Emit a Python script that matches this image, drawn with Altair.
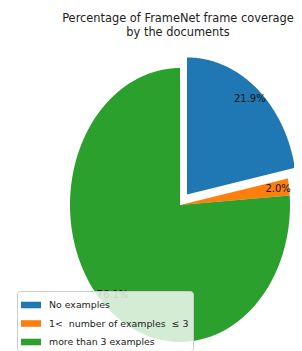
import altair as alt
import pandas as pd

# ---- data ----
labels = ["No examples", "1<\u00a0 number of examples \u00a0≤\u00a03", "more than 3 examples"]
shares = [21.9, 2.0, 76.1]          # percent
explode = [0.1, 0.0, 0.0]           # fraction of radius
colors = ["#1f77b4", "#ff7f0e", "#2ca02c"]
order = [0, 1, 2]

df = pd.DataFrame({"label": labels, "share": shares, "explode": explode, "k": order})

# scales (the reference pie is drawn as an ellipse, rx != ry)
xs = alt.Scale(domain=[-1.5636, 1.0364], nice=False, zero=False)
ys = alt.Scale(domain=[-1.066, 1.146], nice=False, zero=False)

base = alt.Chart(df).transform_window(
    cum="sum(share)", sort=[alt.SortField("k")], frame=[None, 0]
).transform_calculate(
    start="datum.cum - datum.share",
    mid="2*PI*(datum.cum - datum.share/2)/100",
).transform_calculate(
    cx="datum.explode*sin(datum.mid)",
    cy="datum.explode*cos(datum.mid)",
)

legend = alt.Legend(
    title=None, orient="none", legendX=9, legendY=243,
    fillColor="rgba(255,255,255,0.8)", strokeColor="#cccccc", cornerRadius=3,
    padding=4, symbolType="M-1,-0.33H1V0.33H-1Z", symbolSize=400,
    symbolStrokeWidth=0, labelFont="DejaVu Sans", labelFontSize=9.4,
    labelColor="#222222", rowPadding=3.5, labelOffset=8, labelLimit=300,
)

wedges = base.transform_calculate(
    step="sequence(-1, 121)"
).transform_flatten(["step"]).transform_calculate(
    ang="2*PI*(datum.start + datum.share*max(datum.step,0)/120)/100",
).transform_calculate(
    px="datum.step < 0 ? datum.cx : datum.cx + sin(datum.ang)",
    py="datum.step < 0 ? datum.cy : datum.cy + cos(datum.ang)",
).mark_line(interpolate="linear-closed", strokeWidth=0).encode(
    x=alt.X("px:Q", scale=xs, axis=None),
    y=alt.Y("py:Q", scale=ys, axis=None),
    order=alt.Order("step:Q"),
    fill=alt.Fill("label:N", scale=alt.Scale(domain=labels, range=colors),
                  sort=labels, legend=legend),
)

pct = base.transform_calculate(
    tx="datum.cx + 0.9*sin(datum.mid)",
    ty="datum.cy + 0.9*cos(datum.mid)",
    txt="format(datum.share, '.1f') + '%'",
).mark_text(fontSize=10, font="DejaVu Sans", color="#111111").encode(
    x=alt.X("tx:Q", scale=xs, axis=None),
    y=alt.Y("ty:Q", scale=ys, axis=None),
    text="txt:N",
)

chart = alt.layer(wedges, pct).properties(
    width=286, height=303,
    background="white",
    autosize=alt.AutoSizeParams(type="none"),
    padding={"left": 0, "top": 40, "right": 0, "bottom": 0},
    title=alt.TitleParams(
        text=["Percentage of FrameNet frame coverage", "by the documents"],
        font="DejaVu Sans", fontSize=11.4, fontWeight="normal", color="#222222",
        anchor="middle", dx=27, offset=10, lineHeight=14,
    ),
).configure_view(stroke="transparent", strokeWidth=0).configure_axis(
    domain=False, grid=False, ticks=False, labels=False
)

chart.save("out.html", embed_options={"renderer": "svg", "actions": False})
